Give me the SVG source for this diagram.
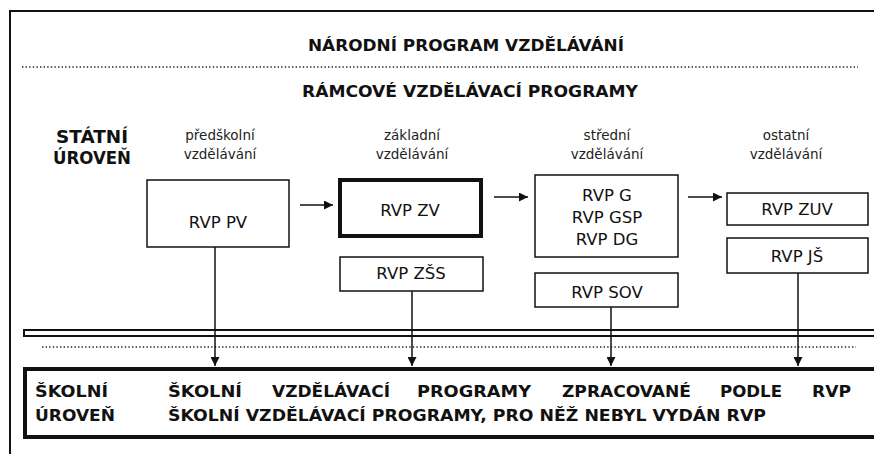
<svg xmlns="http://www.w3.org/2000/svg" width="874" height="454" viewBox="0 0 874 454">
<style>
.bx{fill:#fff;stroke:#111;stroke-width:1.5}
.thick{fill:#fff;stroke:#111;stroke-width:4}
.t{font-family:"DejaVu Sans","Verdana",sans-serif;font-size:16.5px;fill:#111;text-anchor:middle}
.s{font-family:"DejaVu Sans","Verdana",sans-serif;font-size:13.5px;fill:#222;text-anchor:middle}
.b{font-family:"DejaVu Sans","Verdana",sans-serif;font-weight:bold;fill:#111}
.dot{stroke:#222;stroke-width:1.4;stroke-dasharray:1.4 2.2;fill:none}
.ln{stroke:#111;stroke-width:1.5;fill:none}
</style>
<defs>
<marker id="ah" viewBox="0 0 10 10" refX="10" refY="5" markerWidth="7" markerHeight="6" markerUnits="strokeWidth" orient="auto">
<path d="M0,0 L10,5 L0,10 z" fill="#111"/>
</marker>
</defs>
<rect width="874" height="454" fill="#fff"/>
<path d="M10,454 V11 H874" fill="none" stroke="#111" stroke-width="2"/>

<g id="header">
<text class="b" x="466" y="51" font-size="16" text-anchor="middle" textLength="316" lengthAdjust="spacingAndGlyphs">NÁRODNÍ PROGRAM VZDĚLÁVÁNÍ</text>
<line class="dot" x1="22" y1="67" x2="858" y2="67"/>
<text class="b" x="470" y="97" font-size="16" text-anchor="middle" textLength="336" lengthAdjust="spacingAndGlyphs">RÁMCOVÉ VZDĚLÁVACÍ PROGRAMY</text>
<text class="b" x="56" y="143" font-size="17" textLength="72" lengthAdjust="spacingAndGlyphs">STÁTNÍ</text>
<text class="b" x="53" y="164" font-size="17" textLength="78" lengthAdjust="spacingAndGlyphs">ÚROVEŇ</text>
<text class="s" x="220" y="140">předškolní</text>
<text class="s" x="220" y="159">vzdělávání</text>
<text class="s" x="412" y="140">základní</text>
<text class="s" x="412" y="159">vzdělávání</text>
<text class="s" x="607" y="140">střední</text>
<text class="s" x="607" y="159">vzdělávání</text>
<text class="s" x="786" y="140">ostatní</text>
<text class="s" x="786" y="159">vzdělávání</text>
</g>

<g id="node-pv"><rect class="bx" x="147" y="180" width="142" height="67"/><text class="t" x="218" y="228">RVP PV</text></g>
<g id="node-zv"><rect class="thick" x="340" y="180" width="141" height="56"/><text class="t" x="410" y="216">RVP ZV</text></g>
<g id="node-zss"><rect class="bx" x="340" y="257" width="143" height="34"/><text class="t" x="411" y="279">RVP ZŠS</text></g>
<g id="node-g"><rect class="bx" x="535" y="175" width="143" height="82"/><text class="t" x="607" y="201">RVP G</text><text class="t" x="607" y="223">RVP GSP</text><text class="t" x="607" y="245">RVP DG</text></g>
<g id="node-sov"><rect class="bx" x="535" y="273" width="143" height="34"/><text class="t" x="607" y="298">RVP SOV</text></g>
<g id="node-zuv"><rect class="bx" x="727" y="193" width="141" height="32"/><text class="t" x="797" y="215">RVP ZUV</text></g>
<g id="node-js"><rect class="bx" x="727" y="238" width="141" height="35"/><text class="t" x="797" y="262">RVP JŠ</text></g>

<g id="separator">
<rect x="24" y="330" width="860" height="6" fill="#fff" stroke="#111" stroke-width="2"/>
<line class="dot" x1="42" y1="347" x2="856" y2="347"/>
</g>

<g id="connectors">
<line class="ln" x1="300" y1="205" x2="333" y2="205" marker-end="url(#ah)"/>
<line class="ln" x1="494" y1="197" x2="528" y2="197" marker-end="url(#ah)"/>
<line class="ln" x1="688" y1="197" x2="722" y2="197" marker-end="url(#ah)"/>
<line class="ln" x1="215" y1="247" x2="215" y2="366" marker-end="url(#ah)"/>
<line class="ln" x1="412" y1="291" x2="412" y2="366" marker-end="url(#ah)"/>
<line class="ln" x1="611" y1="307" x2="611" y2="366" marker-end="url(#ah)"/>
<line class="ln" x1="798" y1="273" x2="798" y2="366" marker-end="url(#ah)"/>
</g>

<g id="school-level">
<rect x="25" y="369" width="870" height="68" fill="#fff" stroke="#111" stroke-width="4"/>
<text class="b" x="35" y="397" font-size="16.5" textLength="73" lengthAdjust="spacingAndGlyphs">ŠKOLNÍ</text>
<text class="b" x="35" y="421" font-size="16.5" textLength="80" lengthAdjust="spacingAndGlyphs">ÚROVEŇ</text>
<text class="b" x="168" y="397" font-size="16.5" textLength="74" lengthAdjust="spacingAndGlyphs">ŠKOLNÍ</text>
<text class="b" x="272" y="397" font-size="16.5" textLength="118" lengthAdjust="spacingAndGlyphs">VZDĚLÁVACÍ</text>
<text class="b" x="417" y="397" font-size="16.5" textLength="114" lengthAdjust="spacingAndGlyphs">PROGRAMY</text>
<text class="b" x="562" y="397" font-size="16.5" textLength="129" lengthAdjust="spacingAndGlyphs">ZPRACOVANÉ</text>
<text class="b" x="720" y="397" font-size="16.5" textLength="62" lengthAdjust="spacingAndGlyphs">PODLE</text>
<text class="b" x="812" y="397" font-size="16.5" textLength="39" lengthAdjust="spacingAndGlyphs">RVP</text>
<text class="b" x="168" y="421" font-size="16.5" textLength="598" lengthAdjust="spacingAndGlyphs">ŠKOLNÍ VZDĚLÁVACÍ PROGRAMY, PRO NĚŽ NEBYL VYDÁN RVP</text>
</g>
</svg>
